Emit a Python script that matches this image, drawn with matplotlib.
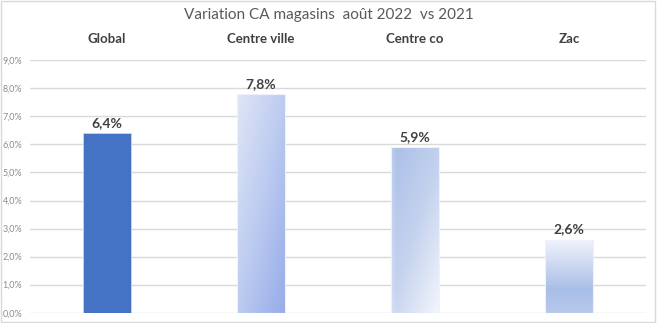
import numpy as np
import matplotlib
matplotlib.use("Agg")
import matplotlib.pyplot as plt
from matplotlib.colors import LinearSegmentedColormap
from matplotlib.patches import Rectangle

# Data
categories = ["Global", "Centre ville", "Centre co", "Zac"]
values = [6.4, 7.8, 5.9, 2.6]
value_labels = ["6,4%", "7,8%", "5,9%", "2,6%"]
yticks = [0, 1, 2, 3, 4, 5, 6, 7, 8, 9]
ytick_labels = ["0,0%", "1,0%", "2,0%", "3,0%", "4,0%", "5,0%", "6,0%", "7,0%", "8,0%", "9,0%"]
title = "Variation CA magasins  août 2022  vs 2021"

FONT = ["Lato", "DejaVu Sans"]
plt.rcParams["font.family"] = FONT

fig = plt.figure(figsize=(6.57, 3.23), dpi=100)
W, H = 657, 323
ax = fig.add_axes([30 / W, (H - 312.7) / H, (646 - 30) / W, (312.7 - 60.3) / H])

ax.set_xlim(-0.5, len(categories) - 0.5)
ax.set_ylim(0, 9)
for s in ax.spines.values():
    s.set_visible(False)

ax.set_yticks(yticks)
ax.set_yticklabels(ytick_labels, fontsize=6.5, color="#8c8c8c")
ax.tick_params(axis="y", length=0, pad=5.5)
ax.yaxis.grid(True, color="#d9d9d9", linewidth=1.0)
ax.set_axisbelow(True)

ax.xaxis.tick_top()
ax.set_xticks(range(len(categories)))
ax.set_xticklabels(categories, fontsize=9.5, fontweight="bold", color="#404040")
ax.tick_params(axis="x", length=0, pad=11)

fig.text(0.5, (H - 14.5) / H, title, ha="center", va="center",
         fontsize=11, color="#595959")

# Gradient fills per bar
def grad_image(kind, n=200):
    yy, xx = np.mgrid[0:1:n * 1j, 0:1:n * 1j]  # yy: 0 top -> 1 bottom
    if kind == "cv":
        t = 0.5 * xx + 0.5 * yy
        cmap = LinearSegmentedColormap.from_list("cv", ["#e0e6f7", "#bccbf0", "#97ace9"])
    elif kind == "co":
        t = np.clip(0.45 * xx + 0.55 * yy, 0, 1)
        cmap = LinearSegmentedColormap.from_list("co", ["#a9bee8", "#c4d2ee", "#f2f5fc"])
        img = cmap(t)
        # soft lighter strip on the left edge
        edge = np.clip(1 - xx / 0.12, 0, 1) * 0.25
        img[..., :3] = img[..., :3] * (1 - edge[..., None]) + edge[..., None]
        return img
    else:
        t = yy
        cmap = LinearSegmentedColormap.from_list(
            "zac", [(0, "#eff2fb"), (0.68, "#a9bee7"), (1.0, "#b8c8eb")])
    return cmap(t)

width = 48 / 154
styles = ["solid", "cv", "co", "zac"]
for i, (v, st) in enumerate(zip(values, styles)):
    x0 = i - width / 2
    if st == "solid":
        ax.add_patch(Rectangle((x0, 0), width, v, facecolor="#4472c4",
                               edgecolor="#c9d3ee", linewidth=0.6, zorder=3))
    else:
        rect = Rectangle((x0, 0), width, v, facecolor="none",
                         edgecolor="#eef1fb", linewidth=0.8, zorder=4)
        ax.add_patch(rect)
        im = ax.imshow(grad_image(st), extent=[x0, x0 + width, 0, v],
                       aspect="auto", zorder=3, interpolation="bilinear")
        im.set_clip_path(rect)
    ax.text(i, v + 0.15, value_labels[i], ha="center", va="bottom",
            fontsize=10, fontweight="bold", color="#404040", zorder=5)

ax.set_xlim(-0.5, len(categories) - 0.5)
ax.set_ylim(0, 9)

# Chart border
fig.add_artist(Rectangle((0.5 / W, 1.5 / H), (W - 2.5) / W, (H - 2.5) / H,
                         transform=fig.transFigure, fill=False,
                         edgecolor="#d9d9d9", linewidth=1.0))

fig.savefig("out.png", dpi=100)
